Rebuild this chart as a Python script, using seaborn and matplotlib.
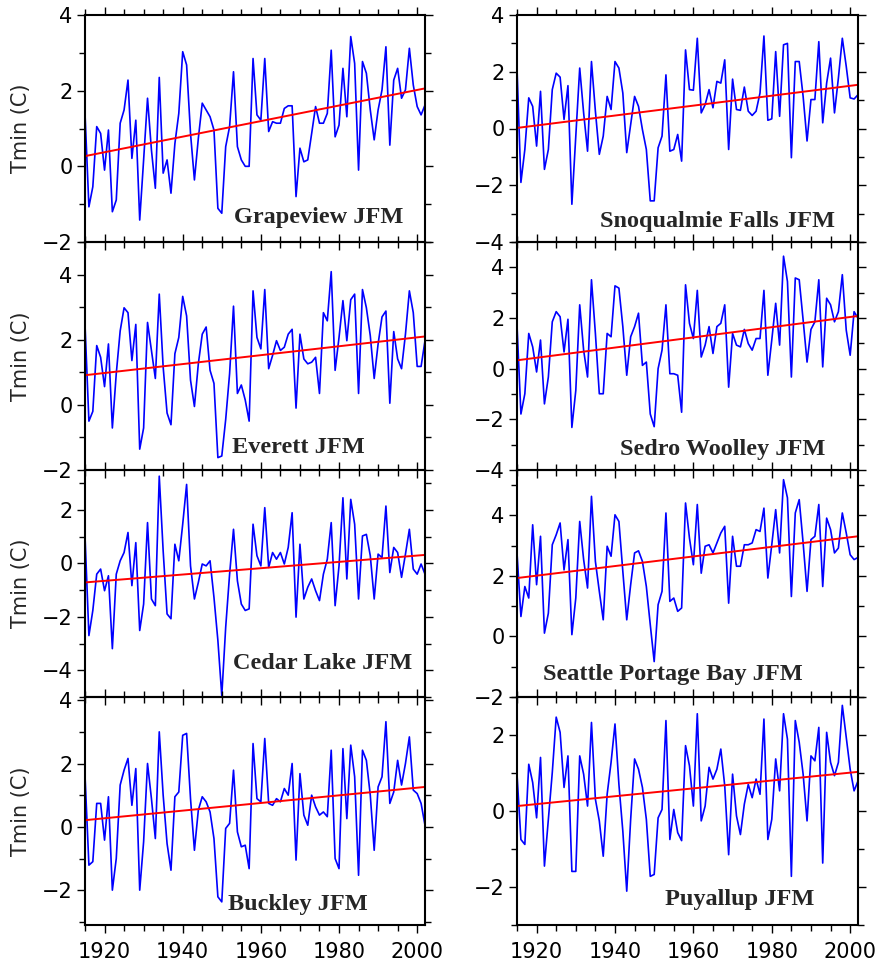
import numpy as np
import pandas as pd
import matplotlib
matplotlib.use("Agg")
import matplotlib.pyplot as plt
import seaborn as sns
from matplotlib.ticker import MultipleLocator

# Annees 1915-2002 (JFM)
years = np.arange(1915, 2003)

grapeview = [1.4, -1.07, -0.54, 1.05, 0.87, -0.1, 0.96, -1.2, -0.89, 1.14,
             1.49, 2.28, 0.21, 1.22, -1.42, 0.17, 1.8, 0.43, -0.58, 2.35,
             -0.18, 0.17, -0.71, 0.6, 1.4, 3.03, 2.68, 0.87, -0.36, 0.74,
             1.67, 1.49, 1.31, 0.96, -1.11, -1.24, 0.52, 1.05, 2.5, 0.52,
             0.17, 0.0, 0.0, 2.85, 1.36, 1.22, 2.85, 0.92, 1.18, 1.14,
             1.14, 1.53, 1.6, 1.6, -0.8, 0.48, 0.12, 0.17, 0.87, 1.58,
             1.14, 1.14, 1.4, 3.07, 0.78, 1.09, 2.59, 1.31, 3.43, 2.72,
             -0.1, 2.77, 2.46, 1.49, 0.7, 1.49, 2.02, 3.16, 0.56, 2.28,
             2.59, 1.8, 2.02, 3.12, 2.15, 1.58, 1.36, 1.62]

snoqualmie = [2.13, -1.9, -0.74, 1.08, 0.78, -0.62, 1.31, -1.44, -0.74, 1.37,
              1.95, 1.81, 0.32, 1.51, -2.67, -0.27, 2.13, 0.55, -0.8, 2.36,
              0.61, -0.91, -0.27, 1.13, 0.67, 2.36, 2.13, 1.25, -0.85, 0.14,
              1.13, 0.78, -0.04, -0.74, -2.55, -2.55, -0.68, -0.27, 1.89, -0.8,
              -0.74, -0.21, -1.15, 2.77, 1.37, 1.35, 3.18, 0.55, 0.84, 1.37,
              0.73, 1.66, 1.6, 2.42, -0.74, 1.74, 0.67, 0.64, 1.46, 0.61,
              0.46, 0.61, 1.25, 3.26, 0.29, 0.34, 2.71, 0.43, 2.95, 3.0,
              -1.03, 2.36, 2.36, 1.13, -0.44, 1.02, 1.02, 3.06, 0.2, 1.6,
              2.48, 0.55, 1.78, 3.18, 2.19, 1.08, 1.04, 1.19]

everett = [2.47, -0.5, -0.2, 1.82, 1.46, 0.56, 1.87, -0.71, 0.96, 2.27,
           2.98, 2.83, 1.36, 2.47, -1.36, -0.71, 2.53, 1.67, 0.81, 3.4,
           1.16, -0.25, -0.61, 1.57, 2.07, 3.33, 2.73, 0.76, -0.05, 1.26,
           2.17, 2.39, 1.06, 0.66, -1.62, -1.57, -0.45, 0.96, 3.03, 0.35,
           0.61, 0.15, -0.5, 3.5, 2.07, 1.72, 3.54, 1.11, 1.52, 1.97,
           1.67, 1.77, 2.17, 2.32, -0.1, 2.17, 1.41, 1.26, 1.31, 1.46,
           0.35, 2.83, 2.58, 4.09, 1.06, 2.07, 3.2, 1.97, 3.23, 3.4,
           0.35, 3.54, 2.98, 2.12, 0.81, 1.87, 2.7, 2.88, 0.05, 2.25,
           1.41, 1.11, 2.17, 3.5, 2.83, 1.18, 1.18, 1.97]

sedro = [1.72, -1.79, -0.99, 1.39, 0.86, -0.13, 1.13, -1.39, -0.33, 1.85,
         2.25, 2.05, 0.66, 1.95, -2.32, -0.86, 2.52, 0.73, -0.33, 3.51,
         1.39, -0.99, -0.99, 1.39, 1.26, 3.27, 3.18, 1.66, -0.26, 1.26,
         1.66, 2.19, 0.13, 0.26, -1.79, -2.29, 0.0, 0.73, 2.52, -0.2,
         -0.2, -0.26, -1.72, 3.31, 1.79, 1.19, 3.09, 0.46, 0.93, 1.66,
         0.6, 1.66, 1.79, 2.52, -0.73, 1.39, 0.93, 0.86, 1.55, 0.99,
         0.73, 1.19, 1.19, 3.09, -0.26, 1.13, 2.58, 0.93, 4.44, 3.44,
         -0.33, 3.58, 3.51, 1.92, 0.26, 1.55, 1.85, 3.51, 0.07, 2.78,
         2.52, 1.85, 2.25, 3.71, 1.52, 0.53, 2.25, 1.99]

cedar = [1.03, -2.7, -1.76, -0.4, -0.21, -1.02, -0.46, -3.19, -0.4, 0.1,
         0.41, 1.16, -0.83, 0.78, -2.51, -1.52, 1.53, -1.33, -1.58, 3.27,
         0.47, -1.89, -2.07, 0.72, 0.1, 1.47, 2.96, -0.09, -1.33, -0.71,
         -0.02, -0.09, 0.1, -1.27, -2.88, -4.95, -2.39, -0.4, 1.28, -0.65,
         -1.52, -1.76, -1.7, 1.47, 0.29, -0.09, 2.09, -0.15, 0.41, 0.16,
         0.41, -0.02, 0.6, 1.9, -2.01, 0.72, -1.33, -0.89, -0.58, -1.02,
         -1.39, -0.4, 0.16, 1.53, -1.58, -0.09, 2.46, -0.58, 2.4, 1.47,
         -1.33, 1.03, 1.09, 0.29, -1.33, 0.35, 0.22, 2.15, -0.34, 0.6,
         0.41, -0.52, 0.35, 1.28, -0.21, -0.4, -0.02, -0.4]

seattle = [2.76, 0.66, 1.65, 1.27, 3.69, 1.71, 3.31, 0.11, 0.77, 3.03,
           3.36, 3.75, 2.2, 3.2, 0.06, 1.27, 3.8, 2.54, 1.6, 4.63,
           2.48, 1.49, 0.55, 2.98, 2.65, 4.02, 3.8, 2.15, 0.55, 1.71,
           2.76, 2.83, 2.48, 1.65, 0.39, -0.83, 1.05, 1.49, 4.08, 1.16,
           1.27, 0.83, 0.94, 4.41, 3.25, 2.37, 4.36, 2.09, 2.98, 3.03,
           2.76, 3.09, 3.42, 3.64, 1.1, 3.31, 2.32, 2.32, 3.03, 3.03,
           3.09, 3.53, 3.47, 4.24, 1.93, 3.03, 4.19, 2.76, 5.18, 4.58,
           1.32, 4.08, 4.52, 3.09, 1.49, 3.2, 3.31, 4.36, 1.65, 3.91,
           3.53, 2.76, 2.92, 4.08, 3.42, 2.7, 2.54, 2.61]

buckley = [1.63, -1.21, -1.1, 0.74, 0.74, -0.42, 0.95, -2.0, -1.0, 1.32,
           1.79, 2.16, 0.68, 1.84, -2.0, -0.47, 2.0, 0.89, -0.37, 3.0,
           1.0, -0.53, -1.37, 0.95, 1.1, 2.89, 2.95, 0.89, -0.74, 0.53,
           0.95, 0.79, 0.47, -0.37, -2.21, -2.37, -0.05, 0.11, 1.79, -0.16,
           -0.63, -0.58, -1.32, 2.63, 0.89, 0.79, 2.79, 0.74, 0.68, 0.89,
           0.79, 1.21, 1.0, 2.0, -1.05, 1.68, 0.37, 0.05, 1.0, 0.63,
           0.37, 0.47, 0.32, 2.42, -1.0, -1.32, 2.47, 0.26, 2.58, 1.58,
           -1.53, 2.42, 2.1, 1.0, -0.74, 1.26, 1.58, 3.32, 0.74, 1.1,
           2.1, 1.32, 2.0, 2.84, 1.16, 1.05, 0.74, 0.05]

puyallup = [0.97, -0.75, -0.88, 1.23, 0.75, -0.18, 1.41, -1.45, -0.22, 1.01,
            2.47, 2.07, 0.62, 1.45, -1.59, -1.59, 1.45, 0.97, 0.13, 2.33,
            0.31, -0.26, -1.19, 0.44, 1.28, 2.29, 0.7, -0.53, -2.11, -0.22,
            1.37, 1.1, 0.62, -0.22, -1.72, -1.67, -0.18, 0.04, 2.38, -0.75,
            0.04, -0.57, -0.78, 1.72, 1.19, 0.13, 2.56, -0.26, 0.13, 1.15,
            0.84, 1.1, 1.63, 0.66, -1.15, 0.97, -0.13, -0.62, 0.18, 0.7,
            0.35, 0.84, 0.44, 2.42, -0.75, -0.22, 1.37, 0.53, 2.56, 1.89,
            -1.72, 2.38, 1.81, 0.97, -0.26, 1.45, 1.32, 2.2, -1.37, 2.07,
            1.28, 0.93, 1.28, 2.78, 1.94, 1.1, 0.53, 0.79]

# tendance lineaire : valeur en 1915 et en 2002
trend_years = [1915, 2002]
trend_grapeview = [0.27, 2.06]
trend_snoqualmie = [0.02, 1.54]
trend_everett = [0.91, 2.10]
trend_sedro = [0.33, 2.08]
trend_cedar = [-0.71, 0.32]
trend_seattle = [1.93, 3.31]
trend_buckley = [0.21, 1.26]
trend_puyallup = [0.13, 1.03]

# (titre, serie, tendance, colonne, ligne, ylim, position du titre)
panneaux = [
    ("Grapeview JFM", grapeview, trend_grapeview, 0, 0, (-2, 4), (0.686, 0.084)),
    ("Everett JFM", everett, trend_everett, 0, 1, (-2, 5), (0.629, 0.075)),
    ("Cedar Lake JFM", cedar, trend_cedar, 0, 2, (-5, 3.5), (0.698, 0.123)),
    ("Buckley JFM", buckley, trend_buckley, 0, 3, (-3.1, 4.1), (0.625, 0.066)),
    ("Snoqualmie Falls JFM", snoqualmie, trend_snoqualmie, 1, 0, (-4, 4), (0.587, 0.066)),
    ("Sedro Woolley JFM", sedro, trend_sedro, 1, 1, (-4, 5), (0.603, 0.066)),
    ("Seattle Portage Bay JFM", seattle, trend_seattle, 1, 2, (-2, 5.5), (0.456, 0.076)),
    ("Puyallup JFM", puyallup, trend_puyallup, 1, 3, (-3, 3), (0.652, 0.088)),
]

sns.set_style("ticks")
plt.rcParams['font.family'] = ['DejaVu Sans']

W, H = 877, 964
fig = plt.figure(figsize=(W / 100, H / 100), dpi=100)
fig.patch.set_facecolor("white")

col_x = [85, 517]
col_w = [340, 341]
row_y = [15, 242, 470, 697, 925]

for titre, serie, tend, col, row, ylim, (tx, ty) in panneaux:
    top, bot = row_y[row], row_y[row + 1]
    ax = fig.add_axes([col_x[col] / W, 1 - bot / H, col_w[col] / W, (bot - top) / H])
    ax.set_facecolor("none")

    df = pd.DataFrame({"annee": years, "tmin": serie})
    sns.lineplot(data=df, x="annee", y="tmin", color="#0000ff", linewidth=1.2, ax=ax)
    sns.lineplot(x=trend_years, y=tend, color="#ff0000", linewidth=1.4, ax=ax)

    ax.set_xlim(1915, 2002)
    ax.set_ylim(*ylim)
    ax.xaxis.set_major_locator(MultipleLocator(20))
    ax.xaxis.set_minor_locator(MultipleLocator(5))
    ax.yaxis.set_major_locator(MultipleLocator(2))
    ax.yaxis.set_minor_locator(MultipleLocator(1))
    ax.tick_params(which="both", direction="out", top=True, right=True,
                   width=1.0, colors="black", labelsize=15)
    ax.tick_params(which="major", length=6, pad=3)
    ax.tick_params(which="minor", length=4)
    ax.tick_params(axis="x", which="major", pad=6)
    for s in ax.spines.values():
        s.set_linewidth(1.5)
        s.set_color("black")

    if row < 3:
        ax.set_xticklabels([])
    ax.set_xlabel("")
    if col == 0:
        ax.set_ylabel("Tmin (C)", fontsize=15)
        ax.yaxis.set_label_coords(-0.158, 0.5)
    else:
        ax.set_ylabel("")

    ax.text(tx, ty, titre, transform=ax.transAxes, ha="center", va="baseline",
            fontsize=17.5, fontweight="bold", family=["Liberation Serif", "DejaVu Serif"])

fig.savefig("out.png", dpi=100)
